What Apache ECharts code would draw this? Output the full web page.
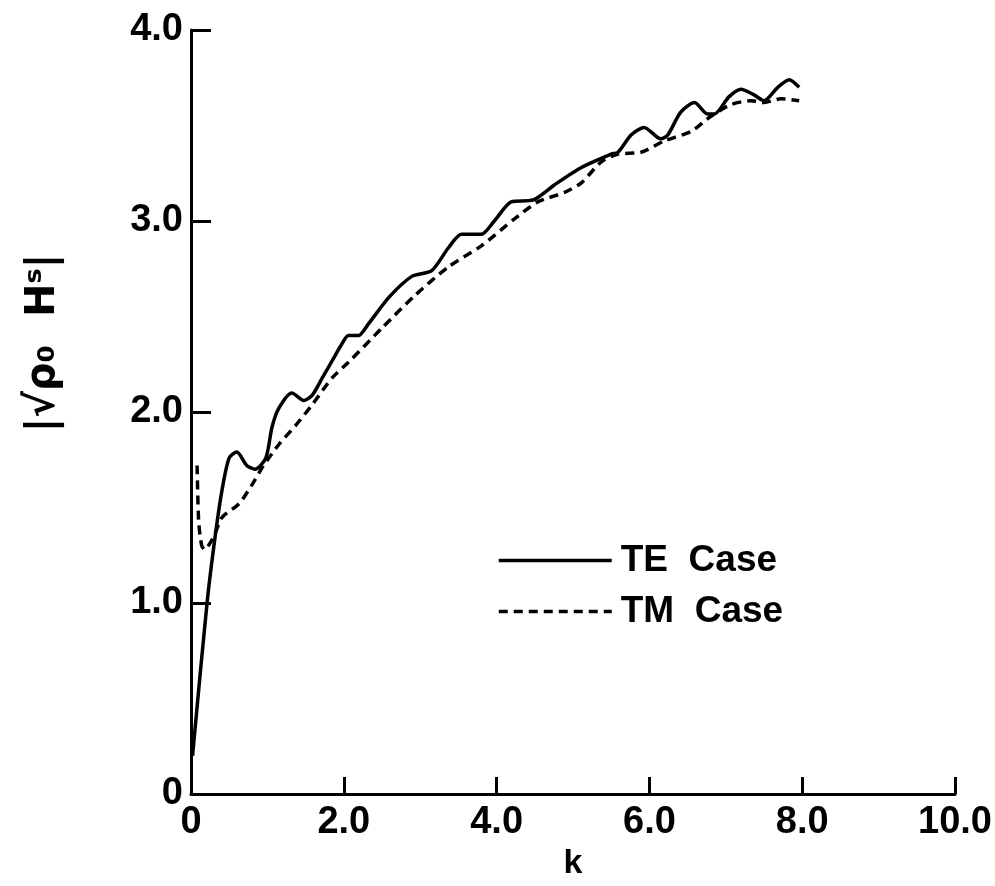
<!DOCTYPE html>
<html>
<head>
<meta charset="utf-8">
<title>TE / TM Case</title>
<script src="https://cdn.jsdelivr.net/npm/echarts@6/dist/echarts.min.js"></script>
<style>
    html, body { margin: 0; padding: 0; background: #fff; }
    #main { width: 995px; height: 886px; }
</style>
</head>
<body>
<div id="main"></div>
<script>
// TE 曲线 (实线)
var teK   = [0.02, 0.21, 0.32, 0.41, 0.50, 0.60, 0.73, 0.84, 0.98, 1.06, 1.15, 1.32, 1.48, 1.59, 1.72, 1.85, 1.98,
             2.06, 2.19, 2.32, 2.59, 2.89, 3.15, 3.37, 3.54, 3.80, 3.97, 4.19, 4.48, 4.76, 5.11, 5.50, 5.59,
             5.76, 5.93, 6.15, 6.24, 6.41, 6.59, 6.76, 6.85, 7.04, 7.20, 7.37, 7.50, 7.68, 7.83, 7.96];
var teVal = [0.20, 1.00, 1.36, 1.60, 1.76, 1.79, 1.72, 1.70, 1.76, 1.92, 2.02, 2.10, 2.06, 2.09, 2.18, 2.27, 2.36,
             2.40, 2.40, 2.46, 2.60, 2.71, 2.74, 2.86, 2.93, 2.93, 3.00, 3.10, 3.11, 3.19, 3.28, 3.35, 3.36,
             3.45, 3.49, 3.43, 3.45, 3.57, 3.62, 3.56, 3.56, 3.65, 3.69, 3.66, 3.63, 3.70, 3.74, 3.70];

// TM 曲线 (虚线)
var tmK   = [0.08, 0.10, 0.14, 0.18, 0.26, 0.32, 0.41, 0.63, 0.80, 0.95, 1.15, 1.37, 1.59, 1.85, 2.06,
             2.50, 2.93, 3.37, 3.80, 4.23, 4.54, 4.89, 5.11, 5.37, 5.59, 5.89, 6.20, 6.55, 6.81, 7.07,
             7.33, 7.50, 7.72, 7.96];
var tmVal = [1.72, 1.43, 1.30, 1.28, 1.32, 1.37, 1.45, 1.52, 1.62, 1.72, 1.83, 1.93, 2.04, 2.18, 2.26,
             2.44, 2.61, 2.76, 2.87, 3.01, 3.10, 3.15, 3.20, 3.31, 3.35, 3.36, 3.42, 3.47, 3.55, 3.61,
             3.63, 3.62, 3.64, 3.63];

// 刻度文字
var xTickLabels = ['0', '2.0', '4.0', '6.0', '8.0', '10.0'];
var yTickLabels = ['0', '1.0', '2.0', '3.0', '4.0'];

var seriesNames = ['TE  Case', 'TM  Case'];

function zip(xs, ys) {
    var out = [];
    for (var i = 0; i < xs.length; i++) {
        out.push([xs[i], ys[i]]);
    }
    return out;
}

var FONT = 'Liberation Sans';

var myChart = echarts.init(document.getElementById('main'));

var option = {
    backgroundColor: '#ffffff',
    animation: false,
    grid: {
        left: 191,
        right: 38,
        top: 30,
        bottom: 92,
        containLabel: false
    },
    legend: {
        orient: 'vertical',
        left: 497,
        top: 542,
        padding: 0,
        itemWidth: 113,
        itemHeight: 14,
        itemGap: 14,
        data: seriesNames,
        itemStyle: { opacity: 0 },   /*去掉图例中的圆点*/
        lineStyle: { width: 3.5 },
        textStyle: {
            fontFamily: FONT,
            fontWeight: 'bold',
            fontSize: 37,
            color: '#000',
            padding: [0, 0, 0, 4]
        }
    },
    xAxis: {
        type: 'value',
        min: 0,
        max: 10,
        interval: 2,
        name: 'k',
        nameLocation: 'middle',
        nameGap: 53,
        nameTextStyle: {
            fontFamily: FONT,
            fontWeight: 'bold',
            fontSize: 34,
            color: '#000'
        },
        splitLine: { show: false },
        axisLine: {
            lineStyle: { color: '#000', width: 3 }
        },
        axisTick: {
            inside: true,
            length: 17,
            lineStyle: { color: '#000', width: 3 }
        },
        axisLabel: {
            margin: 10,
            fontFamily: FONT,
            fontWeight: 'bold',
            fontSize: 38,
            color: '#000',
            formatter: function (v) {
                return xTickLabels[Math.round(v / 2)];
            }
        }
    },
    yAxis: {
        type: 'value',
        min: 0,
        max: 4,
        interval: 1,
        splitLine: { show: false },
        axisLine: {
            lineStyle: { color: '#000', width: 3 }
        },
        axisTick: {
            inside: true,
            length: 20,
            lineStyle: { color: '#000', width: 3 }
        },
        axisLabel: {
            margin: 8,
            fontFamily: FONT,
            fontWeight: 'bold',
            fontSize: 38,
            color: '#000',
            formatter: function (v) {
                return yTickLabels[Math.round(v)];
            }
        }
    },
    // 纵轴名称 |√ρ0 H^s|
    graphic: [{
        type: 'text',
        x: 44,
        y: 343,
        rotation: Math.PI / 2,
        style: {
            text: '|√ρ₀  Hˢ|',
            fontFamily: 'DejaVu Sans',
            fontSize: 40,
            fontWeight: 'bold',
            fill: '#000',
            textAlign: 'center',
            textVerticalAlign: 'middle'
        }
    }],
    series: [{
        name: seriesNames[0],
        type: 'line',
        smooth: 0.25,
        symbol: 'none',
        data: zip(teK, teVal),
        lineStyle: {
            width: 3.5,
            color: '#000'
        },
        itemStyle: { color: '#000' }
    }, {
        name: seriesNames[1],
        type: 'line',
        smooth: 0.25,
        symbol: 'none',
        data: zip(tmK, tmVal),
        lineStyle: {
            width: 3.5,
            color: '#000',
            type: [9, 6]
        },
        itemStyle: { color: '#000' }
    }]
};

myChart.setOption(option);
</script>
</body>
</html>
